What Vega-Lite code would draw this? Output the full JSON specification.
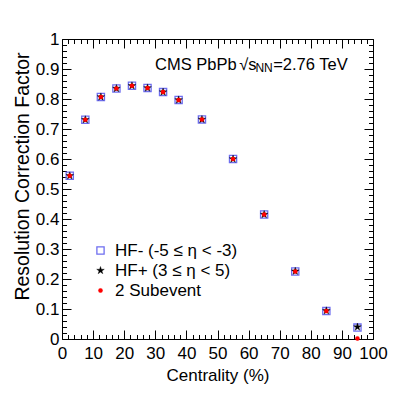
{
  "$schema": "https://vega.github.io/schema/vega-lite/v6.json",
  "width": 311,
  "height": 300,
  "autosize": {"type": "none"},
  "padding": {"left": 62, "top": 39, "right": 42, "bottom": 60},
  "background": "white",
  "config": {
    "view": {"stroke": "#000", "strokeWidth": 1},
    "font": "Liberation Sans",
    "axis": {"domain": false, "grid": false, "tickColor": "#000", "tickWidth": 1, "labelColor": "#000", "titleColor": "#000", "labelFont": "Liberation Sans", "titleFont": "Liberation Sans", "titleFontWeight": "normal"}
  },
  "datasets": {
    "pts": [
      {"series": "HF- (-5 ≤ η < -3)", "c": 2.5, "r": 0.544},
      {"series": "HF- (-5 ≤ η < -3)", "c": 7.5, "r": 0.731},
      {"series": "HF- (-5 ≤ η < -3)", "c": 12.5, "r": 0.807},
      {"series": "HF- (-5 ≤ η < -3)", "c": 17.5, "r": 0.835},
      {"series": "HF- (-5 ≤ η < -3)", "c": 22.5, "r": 0.844},
      {"series": "HF- (-5 ≤ η < -3)", "c": 27.5, "r": 0.837},
      {"series": "HF- (-5 ≤ η < -3)", "c": 32.5, "r": 0.823},
      {"series": "HF- (-5 ≤ η < -3)", "c": 37.5, "r": 0.797},
      {"series": "HF- (-5 ≤ η < -3)", "c": 45, "r": 0.732},
      {"series": "HF- (-5 ≤ η < -3)", "c": 55, "r": 0.600},
      {"series": "HF- (-5 ≤ η < -3)", "c": 65, "r": 0.415},
      {"series": "HF- (-5 ≤ η < -3)", "c": 75, "r": 0.225},
      {"series": "HF- (-5 ≤ η < -3)", "c": 85, "r": 0.093},
      {"series": "HF- (-5 ≤ η < -3)", "c": 95, "r": 0.038},
      {"series": "HF+ (3 ≤ η < 5)", "c": 2.5, "r": 0.544},
      {"series": "HF+ (3 ≤ η < 5)", "c": 7.5, "r": 0.731},
      {"series": "HF+ (3 ≤ η < 5)", "c": 12.5, "r": 0.807},
      {"series": "HF+ (3 ≤ η < 5)", "c": 17.5, "r": 0.835},
      {"series": "HF+ (3 ≤ η < 5)", "c": 22.5, "r": 0.844},
      {"series": "HF+ (3 ≤ η < 5)", "c": 27.5, "r": 0.837},
      {"series": "HF+ (3 ≤ η < 5)", "c": 32.5, "r": 0.823},
      {"series": "HF+ (3 ≤ η < 5)", "c": 37.5, "r": 0.797},
      {"series": "HF+ (3 ≤ η < 5)", "c": 45, "r": 0.732},
      {"series": "HF+ (3 ≤ η < 5)", "c": 55, "r": 0.600},
      {"series": "HF+ (3 ≤ η < 5)", "c": 65, "r": 0.415},
      {"series": "HF+ (3 ≤ η < 5)", "c": 75, "r": 0.226},
      {"series": "HF+ (3 ≤ η < 5)", "c": 85, "r": 0.094},
      {"series": "HF+ (3 ≤ η < 5)", "c": 95, "r": 0.040},
      {"series": "2 Subevent", "c": 2.5, "r": 0.544},
      {"series": "2 Subevent", "c": 7.5, "r": 0.731},
      {"series": "2 Subevent", "c": 12.5, "r": 0.807},
      {"series": "2 Subevent", "c": 17.5, "r": 0.835},
      {"series": "2 Subevent", "c": 22.5, "r": 0.844},
      {"series": "2 Subevent", "c": 27.5, "r": 0.837},
      {"series": "2 Subevent", "c": 32.5, "r": 0.823},
      {"series": "2 Subevent", "c": 37.5, "r": 0.797},
      {"series": "2 Subevent", "c": 45, "r": 0.732},
      {"series": "2 Subevent", "c": 55, "r": 0.600},
      {"series": "2 Subevent", "c": 65, "r": 0.415},
      {"series": "2 Subevent", "c": 75, "r": 0.225},
      {"series": "2 Subevent", "c": 85, "r": 0.093},
      {"series": "2 Subevent", "c": 95, "r": 0.002}
    ],
    "ann": [
      {"part": "main", "c": 29.9, "r": 0.897, "t": "CMS PbPb"},
      {"part": "main", "c": 57.0, "r": 0.897, "t": "√s"},
      {"part": "main", "c": 67.9, "r": 0.897, "t": "=2.76 TeV"},
      {"part": "sub", "c": 62.2, "r": 0.891, "t": "NN"}
    ]
  },
  "resolve": {"axis": {"x": "independent", "y": "independent"}},
  "layer": [
    {
      "data": {"name": "pts"},
      "mark": {"type": "point", "opacity": 1},
      "encoding": {
        "x": {"field": "c", "type": "quantitative",
          "scale": {"domain": [0, 100], "nice": false, "zero": false},
          "axis": {"orient": "bottom", "title": "Centrality (%)", "titleFontSize": 17, "titleX": 155.5, "titleY": 41, "titleBaseline": "alphabetic", "titleAlign": "center",
            "values": [0,2,4,6,8,10,12,14,16,18,20,22,24,26,28,30,32,34,36,38,40,42,44,46,48,50,52,54,56,58,60,62,64,66,68,70,72,74,76,78,80,82,84,86,88,90,92,94,96,98,100],
            "tickSize": {"condition": {"test": "datum.value % 10 === 0", "value": -9}, "value": -4.5},
            "labelExpr": "datum.value % 10 === 0 ? datum.label : ''",
            "labelFontSize": 17, "labelPadding": 15.5, "labelFlush": false, "labelOverlap": false}},
        "y": {"field": "r", "type": "quantitative",
          "scale": {"domain": [0, 1], "nice": false},
          "axis": {"orient": "left", "title": "Resolution Correction Factor", "titleFontSize": 19.5, "titleX": -40, "titleY": 137, "titleAngle": 270, "titleAlign": "center", "titleBaseline": "middle",
            "values": [0,0.02,0.04,0.06,0.08,0.1,0.12,0.14,0.16,0.18,0.2,0.22,0.24,0.26,0.28,0.3,0.32,0.34,0.36,0.38,0.4,0.42,0.44,0.46,0.48,0.5,0.52,0.54,0.56,0.58,0.6,0.62,0.64,0.66,0.68,0.7,0.72,0.74,0.76,0.78,0.8,0.82,0.84,0.86,0.88,0.9,0.92,0.94,0.96,0.98,1],
            "format": "~g",
            "tickSize": {"condition": {"test": "abs(datum.value*10 - round(datum.value*10)) < 0.001", "value": -9}, "value": -4.5},
            "labelExpr": "abs(datum.value*10 - round(datum.value*10)) < 0.001 ? datum.label : ''",
            "labelFontSize": 17, "labelPadding": 12, "labelFlush": false, "labelOverlap": false, "labelBaseline": "middle"}},
        "shape": {"field": "series", "type": "nominal",
          "scale": {"domain": ["HF- (-5 ≤ η < -3)", "HF+ (3 ≤ η < 5)", "2 Subevent"], "range": ["square", "M0,-1L0.2245,-0.309L0.951,-0.309L0.363,0.118L0.588,0.809L0,0.382L-0.588,0.809L-0.363,0.118L-0.951,-0.309L-0.2245,-0.309Z", "circle"]},
          "legend": {"orient": "none", "legendX": 30, "legendY": 203, "title": null, "labelFontSize": 17, "labelFont": "Liberation Sans", "labelColor": "#000", "rowPadding": 2, "labelOffset": 6, "padding": 0}},
        "fill": {"field": "series", "type": "nominal",
          "scale": {"domain": ["HF- (-5 ≤ η < -3)", "HF+ (3 ≤ η < 5)", "2 Subevent"], "range": ["transparent", "#000000", "#ff0000"]}},
        "stroke": {"field": "series", "type": "nominal",
          "scale": {"domain": ["HF- (-5 ≤ η < -3)", "HF+ (3 ≤ η < 5)", "2 Subevent"], "range": ["#6e6ef0", "#000000", "#ff0000"]}},
        "strokeWidth": {"field": "series", "type": "nominal",
          "scale": {"type": "ordinal", "domain": ["HF- (-5 ≤ η < -3)", "HF+ (3 ≤ η < 5)", "2 Subevent"], "range": [1.3, 0.4, 0.1]}},
        "size": {"field": "series", "type": "nominal",
          "scale": {"type": "ordinal", "domain": ["HF- (-5 ≤ η < -3)", "HF+ (3 ≤ η < 5)", "2 Subevent"], "range": [52, 64, 20]}}
      }
    },
    {
      "data": {"name": "ann"},
      "transform": [{"filter": "datum.part === 'main'"}],
      "mark": {"type": "text", "align": "left", "baseline": "alphabetic", "fontSize": 16.5, "font": "Liberation Sans", "color": "#000"},
      "encoding": {
        "x": {"field": "c", "type": "quantitative",
          "axis": {"orient": "top", "title": null, "labels": false,
            "values": [0,2,4,6,8,10,12,14,16,18,20,22,24,26,28,30,32,34,36,38,40,42,44,46,48,50,52,54,56,58,60,62,64,66,68,70,72,74,76,78,80,82,84,86,88,90,92,94,96,98,100],
            "tickSize": {"condition": {"test": "datum.value % 10 === 0", "value": -9}, "value": -4.5}}},
        "y": {"field": "r", "type": "quantitative",
          "axis": {"orient": "right", "title": null, "labels": false,
            "values": [0,0.02,0.04,0.06,0.08,0.1,0.12,0.14,0.16,0.18,0.2,0.22,0.24,0.26,0.28,0.3,0.32,0.34,0.36,0.38,0.4,0.42,0.44,0.46,0.48,0.5,0.52,0.54,0.56,0.58,0.6,0.62,0.64,0.66,0.68,0.7,0.72,0.74,0.76,0.78,0.8,0.82,0.84,0.86,0.88,0.9,0.92,0.94,0.96,0.98,1],
            "tickSize": {"condition": {"test": "abs(datum.value*10 - round(datum.value*10)) < 0.001", "value": -9}, "value": -4.5}}},
        "text": {"field": "t", "type": "nominal"}
      }
    },
    {
      "data": {"name": "ann"},
      "transform": [{"filter": "datum.part === 'sub'"}],
      "mark": {"type": "text", "align": "left", "baseline": "alphabetic", "fontSize": 12, "font": "Liberation Sans", "color": "#000"},
      "encoding": {
        "x": {"field": "c", "type": "quantitative", "axis": null},
        "y": {"field": "r", "type": "quantitative", "axis": null},
        "text": {"field": "t", "type": "nominal"}
      }
    }
  ]
}
